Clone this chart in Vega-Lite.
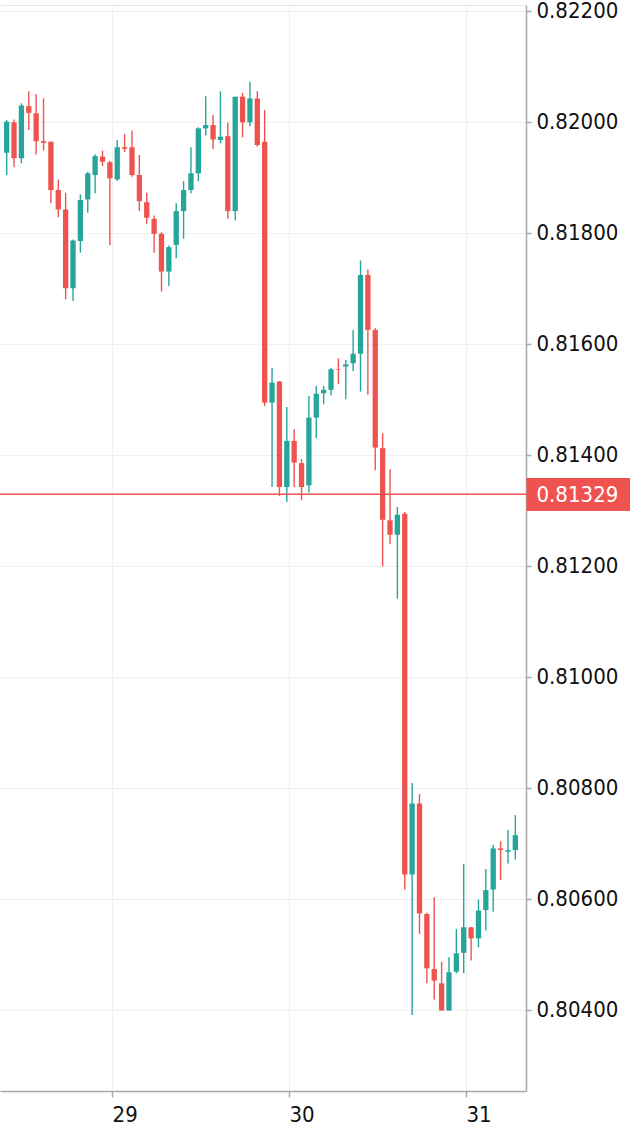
{
  "$schema": "https://vega.github.io/schema/vega-lite/v6.json",
  "width": 526,
  "height": 1086,
  "autosize": {"type": "none"},
  "padding": {"left": 0, "top": 5, "right": 104, "bottom": 45},
  "background": "#ffffff",
  "config": {"view": {"stroke": null}},
  "datasets": {
    "candles": [
      {"t": -14, "open": 0.81944, "high": 0.82003, "low": 0.81904, "close": 0.82000},
      {"t": -13, "open": 0.81999, "high": 0.82004, "low": 0.81918, "close": 0.81934},
      {"t": -12, "open": 0.81934, "high": 0.82033, "low": 0.81925, "close": 0.82029},
      {"t": -11, "open": 0.82028, "high": 0.82055, "low": 0.81985, "close": 0.82016},
      {"t": -10, "open": 0.82015, "high": 0.82050, "low": 0.81941, "close": 0.81965},
      {"t": -9, "open": 0.81965, "high": 0.82042, "low": 0.81948, "close": 0.81962},
      {"t": -8, "open": 0.81964, "high": 0.81964, "low": 0.81853, "close": 0.81877},
      {"t": -7, "open": 0.81877, "high": 0.81896, "low": 0.81828, "close": 0.81842},
      {"t": -6, "open": 0.81842, "high": 0.81872, "low": 0.81680, "close": 0.81700},
      {"t": -5, "open": 0.81700, "high": 0.81788, "low": 0.81677, "close": 0.81786},
      {"t": -4, "open": 0.81785, "high": 0.81869, "low": 0.81764, "close": 0.81859},
      {"t": -3, "open": 0.81860, "high": 0.81910, "low": 0.81836, "close": 0.81907},
      {"t": -2, "open": 0.81904, "high": 0.81941, "low": 0.81871, "close": 0.81938},
      {"t": -1, "open": 0.81937, "high": 0.81948, "low": 0.81920, "close": 0.81928},
      {"t": 0, "open": 0.81927, "high": 0.81929, "low": 0.81778, "close": 0.81898},
      {"t": 1, "open": 0.81896, "high": 0.81967, "low": 0.81893, "close": 0.81954},
      {"t": 2, "open": 0.81954, "high": 0.81978, "low": 0.81945, "close": 0.81951},
      {"t": 3, "open": 0.81954, "high": 0.81984, "low": 0.81901, "close": 0.81904},
      {"t": 4, "open": 0.81904, "high": 0.81940, "low": 0.81839, "close": 0.81857},
      {"t": 5, "open": 0.81855, "high": 0.81872, "low": 0.81816, "close": 0.81827},
      {"t": 6, "open": 0.81825, "high": 0.81831, "low": 0.81764, "close": 0.81798},
      {"t": 7, "open": 0.81798, "high": 0.81801, "low": 0.81694, "close": 0.81730},
      {"t": 8, "open": 0.81730, "high": 0.81777, "low": 0.81704, "close": 0.81774},
      {"t": 9, "open": 0.81778, "high": 0.81853, "low": 0.81754, "close": 0.81839},
      {"t": 10, "open": 0.81839, "high": 0.81893, "low": 0.81789, "close": 0.81877},
      {"t": 11, "open": 0.81877, "high": 0.81954, "low": 0.81871, "close": 0.81907},
      {"t": 12, "open": 0.81907, "high": 0.81990, "low": 0.81893, "close": 0.81988},
      {"t": 13, "open": 0.81988, "high": 0.82046, "low": 0.81975, "close": 0.81994},
      {"t": 14, "open": 0.81994, "high": 0.82012, "low": 0.81951, "close": 0.81968},
      {"t": 15, "open": 0.81967, "high": 0.82055, "low": 0.81961, "close": 0.81973},
      {"t": 16, "open": 0.81974, "high": 0.81998, "low": 0.81825, "close": 0.81839},
      {"t": 17, "open": 0.81839, "high": 0.82045, "low": 0.81822, "close": 0.82045},
      {"t": 18, "open": 0.82045, "high": 0.82052, "low": 0.81972, "close": 0.81999},
      {"t": 19, "open": 0.81999, "high": 0.82072, "low": 0.81992, "close": 0.82042},
      {"t": 20, "open": 0.82042, "high": 0.82055, "low": 0.81955, "close": 0.81958},
      {"t": 21, "open": 0.81964, "high": 0.82021, "low": 0.81488, "close": 0.81494},
      {"t": 22, "open": 0.81494, "high": 0.81557, "low": 0.81342, "close": 0.81530},
      {"t": 23, "open": 0.81532, "high": 0.81533, "low": 0.81326, "close": 0.81342},
      {"t": 24, "open": 0.81342, "high": 0.81486, "low": 0.81315, "close": 0.81425},
      {"t": 25, "open": 0.81425, "high": 0.81446, "low": 0.81342, "close": 0.81386},
      {"t": 26, "open": 0.81385, "high": 0.81392, "low": 0.81318, "close": 0.81342},
      {"t": 27, "open": 0.81345, "high": 0.81506, "low": 0.81332, "close": 0.81467},
      {"t": 28, "open": 0.81467, "high": 0.81524, "low": 0.81430, "close": 0.81510},
      {"t": 29, "open": 0.81511, "high": 0.81524, "low": 0.81491, "close": 0.81517},
      {"t": 30, "open": 0.81517, "high": 0.81557, "low": 0.81507, "close": 0.81554},
      {"t": 31, "open": 0.81554, "high": 0.81574, "low": 0.81527, "close": 0.81553},
      {"t": 32, "open": 0.81559, "high": 0.81571, "low": 0.81500, "close": 0.81563},
      {"t": 33, "open": 0.81565, "high": 0.81625, "low": 0.81551, "close": 0.81582},
      {"t": 34, "open": 0.81582, "high": 0.81750, "low": 0.81514, "close": 0.81724},
      {"t": 35, "open": 0.81724, "high": 0.81734, "low": 0.81508, "close": 0.81625},
      {"t": 36, "open": 0.81625, "high": 0.81628, "low": 0.81372, "close": 0.81413},
      {"t": 37, "open": 0.81412, "high": 0.81439, "low": 0.81199, "close": 0.81283},
      {"t": 38, "open": 0.81282, "high": 0.81374, "low": 0.81239, "close": 0.81256},
      {"t": 39, "open": 0.81256, "high": 0.81306, "low": 0.81141, "close": 0.81292},
      {"t": 40, "open": 0.81294, "high": 0.81297, "low": 0.80617, "close": 0.80644},
      {"t": 41, "open": 0.80644, "high": 0.80809, "low": 0.80391, "close": 0.80772},
      {"t": 42, "open": 0.80772, "high": 0.80789, "low": 0.80537, "close": 0.80574},
      {"t": 43, "open": 0.80573, "high": 0.80575, "low": 0.80448, "close": 0.80475},
      {"t": 44, "open": 0.80474, "high": 0.80603, "low": 0.80419, "close": 0.80453},
      {"t": 45, "open": 0.80448, "high": 0.80487, "low": 0.80399, "close": 0.80399},
      {"t": 46, "open": 0.80399, "high": 0.80495, "low": 0.80399, "close": 0.80468},
      {"t": 47, "open": 0.80469, "high": 0.80546, "low": 0.80466, "close": 0.80502},
      {"t": 48, "open": 0.80503, "high": 0.80663, "low": 0.80466, "close": 0.80549},
      {"t": 49, "open": 0.80549, "high": 0.80549, "low": 0.80489, "close": 0.80529},
      {"t": 50, "open": 0.80529, "high": 0.80599, "low": 0.80513, "close": 0.80579},
      {"t": 51, "open": 0.80580, "high": 0.80654, "low": 0.80543, "close": 0.80616},
      {"t": 52, "open": 0.80617, "high": 0.80697, "low": 0.80577, "close": 0.80691},
      {"t": 53, "open": 0.80691, "high": 0.80704, "low": 0.80634, "close": 0.80688},
      {"t": 54, "open": 0.80685, "high": 0.80724, "low": 0.80664, "close": 0.80688},
      {"t": 55, "open": 0.80688, "high": 0.80751, "low": 0.80671, "close": 0.80715}
    ],
    "priceline": [{"price": 0.81329}]
  },
  "layer": [
    {
      "data": {"name": "candles"},
      "mark": {"type": "rule", "strokeWidth": 1.4},
      "encoding": {
        "x": {
          "field": "t", "type": "quantitative",
          "scale": {"domain": [-14.226, 55.77], "nice": false, "zero": false},
          "axis": {
            "orient": "bottom", "title": null,
            "values": [0.3, 24.3, 48.3],
            "labelExpr": "datum.value < 12 ? '29' : (datum.value < 36 ? '30' : '31')",
            "grid": true, "gridColor": "#f0f0f0", "gridWidth": 1.2,
            "domainColor": "#a9a9a9", "domainWidth": 1.5,
            "tickColor": "#a9a9a9", "tickWidth": 1.5, "tickSize": 6,
            "labelAlign": "left", "labelDx": -5, "labelPadding": 7, "labelFlush": false,
            "labelFont": "DejaVu Sans Condensed, DejaVu Sans", "labelFontSize": 22, "labelColor": "#111111"
          }
        },
        "y": {
          "field": "low", "type": "quantitative",
          "scale": {"domain": [0.802541, 0.822102], "nice": false, "zero": false},
          "axis": {
            "orient": "right", "title": null,
            "values": [0.804, 0.806, 0.808, 0.81, 0.812, 0.814, 0.816, 0.818, 0.82, 0.822],
            "format": ".5f",
            "grid": true, "gridColor": "#f0f0f0", "gridWidth": 1.2,
            "domainColor": "#a9a9a9", "domainWidth": 1.5,
            "tickColor": "#a9a9a9", "tickWidth": 1.5, "tickSize": 5,
            "labelPadding": 5, "labelFlush": false, "labelOverlap": false,
            "labelFont": "DejaVu Sans Condensed, DejaVu Sans", "labelFontSize": 22, "labelColor": "#111111"
          }
        },
        "y2": {"field": "high"},
        "color": {"condition": {"test": "datum.close >= datum.open", "value": "#26a69a"}, "value": "#ef5350"}
      }
    },
    {
      "data": {"name": "candles"},
      "mark": {"type": "bar", "width": 5.3},
      "encoding": {
        "x": {
          "field": "t", "type": "quantitative",
          "scale": {"domain": [-14.226, 55.77], "nice": false, "zero": false},
          "axis": {"orient": "top", "title": null, "labels": false, "ticks": false, "grid": false, "domainColor": "#e6e6e6", "domainWidth": 1}
        },
        "y": {
          "field": "open", "type": "quantitative",
          "scale": {"domain": [0.802541, 0.822102], "nice": false, "zero": false},
          "axis": null
        },
        "y2": {"field": "close"},
        "color": {"condition": {"test": "datum.close >= datum.open", "value": "#26a69a"}, "value": "#ef5350"}
      }
    },
    {
      "data": {"name": "priceline"},
      "mark": {"type": "rule", "color": "#ef5350", "strokeWidth": 1.3},
      "encoding": {
        "y": {
          "field": "price", "type": "quantitative",
          "scale": {"domain": [0.802541, 0.822102], "nice": false, "zero": false},
          "axis": {
            "orient": "right", "title": null,
            "values": [0.81329], "format": ".5f",
            "grid": false, "domain": false,
            "tickColor": "#ef5350", "tickWidth": 33, "tickSize": 104,
            "labelPadding": -94, "labelFlush": false,
            "labelFont": "DejaVu Sans Condensed, DejaVu Sans", "labelFontSize": 22, "labelColor": "#ffffff"
          }
        }
      }
    }
  ],
  "resolve": {"axis": {"x": "independent", "y": "independent"}}
}
